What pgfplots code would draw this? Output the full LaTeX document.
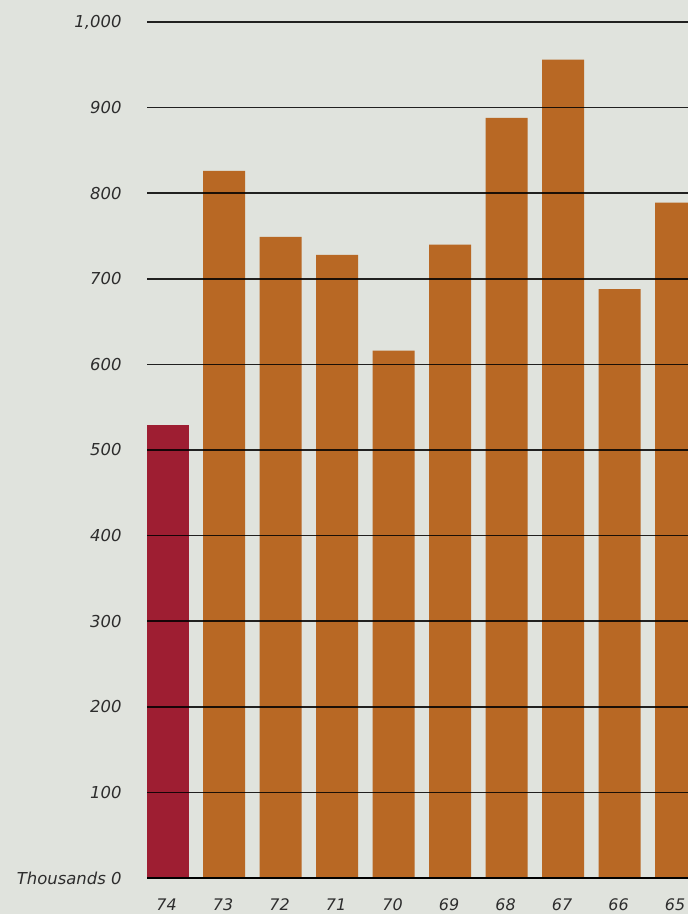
\documentclass[border=0pt]{standalone}
\usepackage{pgfplots}
\pgfplotsset{compat=1.18}
\usepackage{fontspec}
\setmainfont{DejaVu Sans}
\definecolor{bg}{RGB}{224,227,221}
\definecolor{barorange}{RGB}{184,104,36}
\definecolor{barred}{RGB}{158,30,50}
\definecolor{txt}{RGB}{45,45,45}
\begin{document}
\begin{tikzpicture}
\fill[bg] (0bp,0bp) rectangle (688bp,914bp);
\useasboundingbox (0bp,0bp) rectangle (688bp,914bp);
\begin{axis}[
  at={(147bp,36bp)}, anchor=south west,
  scale only axis, width=541bp, height=856bp,
  xmin=-0.363, xmax=9.212, ymin=0, ymax=1000,
  axis line style={draw=none},
  ytick={0,100,...,1000},
  yticklabels={Thousands 0,100,200,300,400,500,600,700,800,900,{1,000}},
  xtick={0,...,9},
  xticklabels={74,73,72,71,70,69,68,67,66,65},
  tick style={draw=none},
  yticklabel style={font=\fontsize{16.5}{18}\selectfont\itshape, text=txt, anchor=east, xshift=-22bp},
  xticklabel style={font=\fontsize{16}{18}\selectfont\itshape, text=txt, anchor=north, yshift=-17bp, xshift=-1bp},
  ymajorgrids, grid style={black, line width=1.6pt, opacity=0.85},
  axis on top,
  clip=true,
]
\addplot[ybar, bar width=42bp, bar shift=0pt, fill=barred, draw=none] coordinates {(0,529)};
\addplot[ybar, bar width=42bp, bar shift=0pt, fill=barorange, draw=none] coordinates {
(1,826) (2,749) (3,728) (4,616) (5,740) (6,888) (7,956) (8,688) (9,789)};
\draw[black, line width=2.2pt] (axis cs:-0.363,0) -- (axis cs:9.212,0);
\end{axis}
\end{tikzpicture}
\end{document}
